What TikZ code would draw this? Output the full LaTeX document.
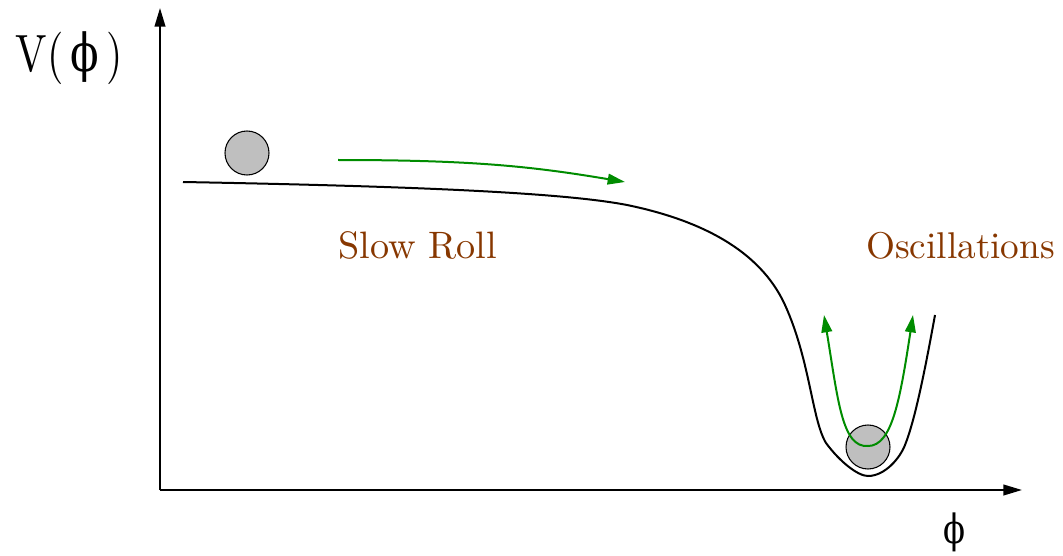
\documentclass[tikz,border=0pt]{standalone}
\usepackage{fontspec}
\newfontfamily\grk{DejaVu Serif}
\usetikzlibrary{arrows.meta}
\definecolor{lblbrown}{RGB}{135,55,0}
\definecolor{arrgreen}{RGB}{0,140,0}
\begin{document}
\begin{tikzpicture}[x=0.75pt,y=-0.75pt,
  axis/.style={line width=1.5pt,-{Triangle[length=14pt,width=8pt]}},
  pot/.style={line width=1.5pt},
  garrow/.style={arrgreen,line width=1.5pt},
  ball/.style={circle,draw=black,line width=0.8pt,fill=black!25,minimum size=44pt*0.75,inner sep=0pt},
  lbl/.style={text=lblbrown,font=\rmfamily,inner sep=0pt},
  axlbl/.style={font=\rmfamily,inner sep=0pt,yscale=1.25}]
\useasboundingbox (0,0) rectangle (1063,556);
\coordinate (O) at (160,490);
\coordinate (ytop) at (160,8);
\coordinate (xend) at (1022,490);
\draw[axis] (O) -- (ytop);
\draw[axis] (O) -- (xend);
\node[axlbl,anchor=base] (vlab) at (69,72) {\resizebox{80pt}{!}{V(\,{\grk ϕ}\,)}};
\node[axlbl,anchor=base] (philab) at (954,543) {\resizebox{16.5pt}{!}{\grk ϕ}};
\draw[pot] (183,182) .. controls (400,186) and (560,192) .. (627,205)
  .. controls (700,220) and (760,250) .. (785,305)
  .. controls (810,360) and (812,420) .. (826,443)
  .. controls (840,462) and (858,476) .. (868,476)
  .. controls (885,476) and (900,458) .. (905,445)
  .. controls (915,420) and (925,370) .. (935,315);
\node[ball] (b1) at (247,153) {};
\node[ball] (b2) at (868,447) {};
\draw[garrow,-{Triangle[length=13pt,width=8pt]}] (338,160) .. controls (470,160) and (530,166) .. (625,182);
\draw[garrow,{Triangle[length=13pt,width=8pt]}-{Triangle[length=13pt,width=8pt]}] (824,315) .. controls (838,400) and (842,448) .. (868,446) .. controls (892,446) and (900,400) .. (913,315);
\node[lbl,anchor=base west] (slow) at (338,258) {\resizebox{119pt}{!}{Slow Roll}};
\node[lbl,anchor=base west] (osc) at (866,258) {\resizebox{141.5pt}{!}{Oscillations}};
\end{tikzpicture}
\end{document}
